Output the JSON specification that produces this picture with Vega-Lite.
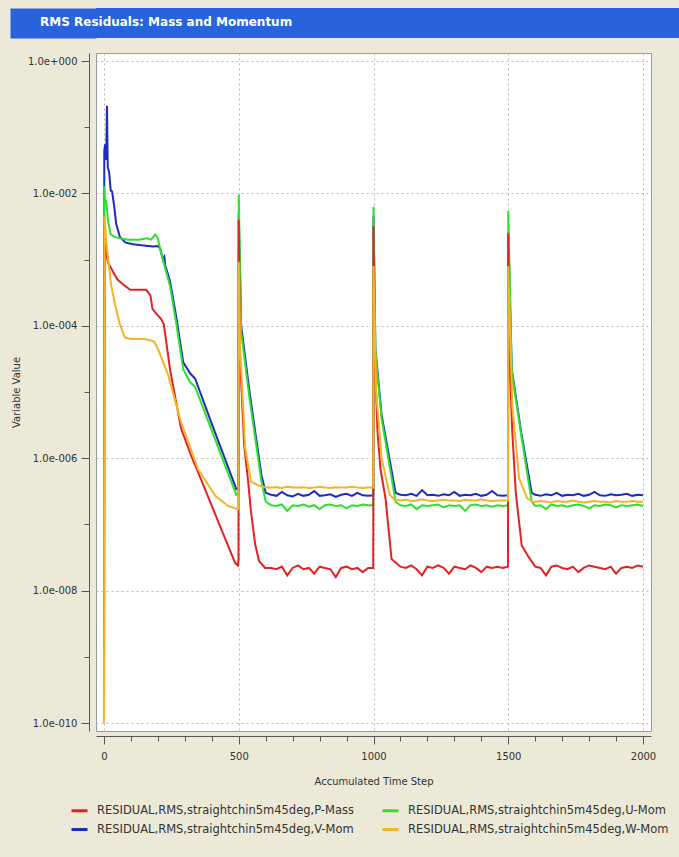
{
"$schema": "https://vega.github.io/schema/vega-lite/v6.json",
"background": "#ECE9D8",
"padding": {"left": 10, "top": 2, "right": 0, "bottom": 46},
"spacing": 14,
"config": {"font": "DejaVu Sans", "view": {"stroke": null}},
"datasets": {
"res": [
{"k":"V","t":0,"v":1e-10},{"k":"V","t":1,"v":4.4e-2},{"k":"V","t":4,"v":5.5e-2},{"k":"V","t":8,"v":3.2e-2},{"k":"V","t":11,"v":2.1e-1},{"k":"V","t":14,"v":2.5e-2},{"k":"V","t":19,"v":2.1e-2},{"k":"V","t":25,"v":1.1e-2},{"k":"V","t":30,"v":1.07e-2},{"k":"V","t":38,"v":6.3e-3},{"k":"V","t":45,"v":3.5e-3},{"k":"V","t":59,"v":2.2e-3},{"k":"V","t":80,"v":1.8e-3},{"k":"V","t":108,"v":1.7e-3},{"k":"V","t":130,"v":1.66e-3},{"k":"V","t":156,"v":1.62e-3},{"k":"V","t":182,"v":1.58e-3},{"k":"V","t":200,"v":1.6e-3},{"k":"V","t":208,"v":1.48e-3},{"k":"V","t":219,"v":1.0e-3},{"k":"V","t":224,"v":1.1e-3},{"k":"V","t":227,"v":8.3e-4},{"k":"V","t":245,"v":4.7e-4},{"k":"V","t":268,"v":1.38e-4},{"k":"V","t":294,"v":2.8e-5},{"k":"V","t":320,"v":1.9e-5},{"k":"V","t":338,"v":1.6e-5},{"k":"V","t":400,"v":3.3e-6},{"k":"V","t":450,"v":9.5e-7},{"k":"V","t":491,"v":3.4e-7},{"k":"V","t":499,"v":3.5e-7},
{"k":"V","t":500,"v":5e-3},{"k":"V","t":509,"v":1e-4},{"k":"V","t":540,"v":1e-5},{"k":"V","t":584,"v":5.6e-7},{"k":"V","t":600,"v":3.0e-7},
{"k":"V","t":620,"v":2.8e-7},{"k":"V","t":640,"v":2.7e-7},{"k":"V","t":660,"v":3.1e-7},{"k":"V","t":680,"v":2.75e-7},{"k":"V","t":700,"v":2.65e-7},{"k":"V","t":720,"v":2.9e-7},{"k":"V","t":740,"v":2.7e-7},{"k":"V","t":760,"v":2.8e-7},{"k":"V","t":780,"v":3.2e-7},{"k":"V","t":800,"v":2.7e-7},{"k":"V","t":820,"v":2.75e-7},{"k":"V","t":840,"v":2.85e-7},{"k":"V","t":860,"v":2.6e-7},{"k":"V","t":880,"v":2.8e-7},{"k":"V","t":900,"v":2.9e-7},{"k":"V","t":920,"v":2.7e-7},{"k":"V","t":940,"v":3.0e-7},{"k":"V","t":960,"v":2.75e-7},{"k":"V","t":980,"v":2.7e-7},{"k":"V","t":999,"v":2.75e-7},
{"k":"V","t":1000,"v":4.5e-3},{"k":"V","t":1007,"v":4.5e-5},{"k":"V","t":1030,"v":4.5e-6},{"k":"V","t":1082,"v":3.0e-7},
{"k":"V","t":1100,"v":2.8e-7},{"k":"V","t":1120,"v":2.75e-7},{"k":"V","t":1140,"v":2.9e-7},{"k":"V","t":1160,"v":2.7e-7},{"k":"V","t":1180,"v":3.3e-7},{"k":"V","t":1200,"v":2.75e-7},{"k":"V","t":1220,"v":2.8e-7},{"k":"V","t":1240,"v":2.7e-7},{"k":"V","t":1260,"v":2.85e-7},{"k":"V","t":1280,"v":2.75e-7},{"k":"V","t":1300,"v":3.1e-7},{"k":"V","t":1320,"v":2.7e-7},{"k":"V","t":1340,"v":2.8e-7},{"k":"V","t":1360,"v":2.75e-7},{"k":"V","t":1380,"v":2.9e-7},{"k":"V","t":1400,"v":2.7e-7},{"k":"V","t":1420,"v":2.8e-7},{"k":"V","t":1440,"v":3.2e-7},{"k":"V","t":1460,"v":2.75e-7},{"k":"V","t":1480,"v":2.7e-7},{"k":"V","t":1499,"v":2.75e-7},
{"k":"V","t":1500,"v":2.6e-3},{"k":"V","t":1513,"v":2.2e-5},{"k":"V","t":1550,"v":2.2e-6},{"k":"V","t":1587,"v":3.0e-7},
{"k":"V","t":1600,"v":2.8e-7},{"k":"V","t":1620,"v":2.7e-7},{"k":"V","t":1640,"v":2.85e-7},{"k":"V","t":1660,"v":2.75e-7},{"k":"V","t":1680,"v":3.0e-7},{"k":"V","t":1700,"v":2.7e-7},{"k":"V","t":1720,"v":2.8e-7},{"k":"V","t":1740,"v":2.75e-7},{"k":"V","t":1760,"v":2.9e-7},{"k":"V","t":1780,"v":2.7e-7},{"k":"V","t":1800,"v":2.8e-7},{"k":"V","t":1820,"v":3.1e-7},{"k":"V","t":1840,"v":2.75e-7},{"k":"V","t":1860,"v":2.7e-7},{"k":"V","t":1880,"v":2.85e-7},{"k":"V","t":1900,"v":2.75e-7},{"k":"V","t":1920,"v":2.8e-7},{"k":"V","t":1940,"v":2.9e-7},{"k":"V","t":1960,"v":2.7e-7},{"k":"V","t":1980,"v":2.8e-7},{"k":"V","t":2000,"v":2.75e-7},

{"k":"U","t":0,"v":1e-10},{"k":"U","t":1,"v":1.3e-2},{"k":"U","t":4,"v":6.8e-3},{"k":"U","t":8,"v":8e-3},{"k":"U","t":15,"v":3.8e-3},{"k":"U","t":25,"v":2.4e-3},{"k":"U","t":40,"v":2.2e-3},{"k":"U","t":59,"v":2.1e-3},{"k":"U","t":89,"v":2.0e-3},{"k":"U","t":130,"v":2.0e-3},{"k":"U","t":160,"v":2.1e-3},{"k":"U","t":175,"v":2.0e-3},{"k":"U","t":190,"v":2.4e-3},{"k":"U","t":200,"v":2.1e-3},{"k":"U","t":208,"v":1.45e-3},{"k":"U","t":227,"v":7.5e-4},{"k":"U","t":245,"v":4.0e-4},{"k":"U","t":268,"v":1.1e-4},{"k":"U","t":294,"v":2.2e-5},{"k":"U","t":320,"v":1.4e-5},{"k":"U","t":338,"v":1.2e-5},{"k":"U","t":400,"v":2.6e-6},{"k":"U","t":450,"v":7.6e-7},{"k":"U","t":491,"v":2.8e-7},{"k":"U","t":499,"v":2.9e-7},
{"k":"U","t":500,"v":9.5e-3},{"k":"U","t":509,"v":8e-5},{"k":"U","t":540,"v":8e-6},{"k":"U","t":584,"v":4.5e-7},{"k":"U","t":600,"v":2.2e-7},
{"k":"U","t":620,"v":1.95e-7},{"k":"U","t":640,"v":1.9e-7},{"k":"U","t":660,"v":2.0e-7},{"k":"U","t":680,"v":1.6e-7},{"k":"U","t":700,"v":1.95e-7},{"k":"U","t":720,"v":1.9e-7},{"k":"U","t":740,"v":2.0e-7},{"k":"U","t":760,"v":1.85e-7},{"k":"U","t":780,"v":1.95e-7},{"k":"U","t":800,"v":1.7e-7},{"k":"U","t":820,"v":1.95e-7},{"k":"U","t":840,"v":2.0e-7},{"k":"U","t":860,"v":1.9e-7},{"k":"U","t":880,"v":1.95e-7},{"k":"U","t":900,"v":1.75e-7},{"k":"U","t":920,"v":1.95e-7},{"k":"U","t":940,"v":1.9e-7},{"k":"U","t":960,"v":2.0e-7},{"k":"U","t":980,"v":1.95e-7},{"k":"U","t":999,"v":1.95e-7},
{"k":"U","t":1000,"v":6.3e-3},{"k":"U","t":1007,"v":4e-5},{"k":"U","t":1030,"v":4e-6},{"k":"U","t":1082,"v":2.2e-7},
{"k":"U","t":1100,"v":1.95e-7},{"k":"U","t":1120,"v":1.9e-7},{"k":"U","t":1140,"v":2.0e-7},{"k":"U","t":1160,"v":1.7e-7},{"k":"U","t":1180,"v":1.95e-7},{"k":"U","t":1200,"v":1.9e-7},{"k":"U","t":1220,"v":1.95e-7},{"k":"U","t":1240,"v":2.0e-7},{"k":"U","t":1260,"v":1.8e-7},{"k":"U","t":1280,"v":1.95e-7},{"k":"U","t":1300,"v":1.9e-7},{"k":"U","t":1320,"v":1.95e-7},{"k":"U","t":1340,"v":1.6e-7},{"k":"U","t":1360,"v":1.95e-7},{"k":"U","t":1380,"v":2.0e-7},{"k":"U","t":1400,"v":1.9e-7},{"k":"U","t":1420,"v":1.95e-7},{"k":"U","t":1440,"v":1.85e-7},{"k":"U","t":1460,"v":1.95e-7},{"k":"U","t":1480,"v":1.9e-7},{"k":"U","t":1499,"v":1.95e-7},
{"k":"U","t":1500,"v":5.4e-3},{"k":"U","t":1513,"v":2e-5},{"k":"U","t":1550,"v":2e-6},{"k":"U","t":1587,"v":2.2e-7},
{"k":"U","t":1600,"v":1.9e-7},{"k":"U","t":1620,"v":1.95e-7},{"k":"U","t":1640,"v":1.7e-7},{"k":"U","t":1660,"v":2.0e-7},{"k":"U","t":1680,"v":1.9e-7},{"k":"U","t":1700,"v":1.95e-7},{"k":"U","t":1720,"v":1.85e-7},{"k":"U","t":1740,"v":1.95e-7},{"k":"U","t":1760,"v":2.0e-7},{"k":"U","t":1780,"v":1.9e-7},{"k":"U","t":1800,"v":1.75e-7},{"k":"U","t":1820,"v":1.95e-7},{"k":"U","t":1840,"v":1.9e-7},{"k":"U","t":1860,"v":2.0e-7},{"k":"U","t":1880,"v":1.95e-7},{"k":"U","t":1900,"v":1.8e-7},{"k":"U","t":1920,"v":1.95e-7},{"k":"U","t":1940,"v":1.9e-7},{"k":"U","t":1960,"v":1.95e-7},{"k":"U","t":1980,"v":2.0e-7},{"k":"U","t":2000,"v":1.9e-7},

{"k":"P","t":0,"v":1e-10},{"k":"P","t":2,"v":3.2e-3},{"k":"P","t":4,"v":2.5e-3},{"k":"P","t":7,"v":1.3e-3},{"k":"P","t":15,"v":9e-4},{"k":"P","t":33,"v":6.6e-4},{"k":"P","t":50,"v":5.0e-4},{"k":"P","t":71,"v":4.2e-4},{"k":"P","t":97,"v":3.5e-4},{"k":"P","t":130,"v":3.5e-4},{"k":"P","t":156,"v":3.5e-4},{"k":"P","t":172,"v":2.9e-4},{"k":"P","t":180,"v":1.8e-4},{"k":"P","t":190,"v":1.6e-4},{"k":"P","t":212,"v":1.26e-4},{"k":"P","t":222,"v":1.05e-4},{"k":"P","t":245,"v":2.2e-5},{"k":"P","t":286,"v":2.8e-6},{"k":"P","t":323,"v":1.1e-6},{"k":"P","t":360,"v":4.8e-7},{"k":"P","t":400,"v":1.9e-7},{"k":"P","t":440,"v":7.6e-8},{"k":"P","t":470,"v":3.8e-8},{"k":"P","t":487,"v":2.6e-8},{"k":"P","t":497,"v":2.4e-8},{"k":"P","t":499,"v":3e-8},
{"k":"P","t":500,"v":4e-3},{"k":"P","t":505,"v":3.2e-5},{"k":"P","t":520,"v":1.6e-6},{"k":"P","t":535,"v":4.4e-7},{"k":"P","t":545,"v":1.6e-7},{"k":"P","t":561,"v":5e-8},{"k":"P","t":575,"v":2.8e-8},{"k":"P","t":598,"v":2.2e-8},
{"k":"P","t":620,"v":2.2e-8},{"k":"P","t":640,"v":2.1e-8},{"k":"P","t":660,"v":2.3e-8},{"k":"P","t":680,"v":1.7e-8},{"k":"P","t":700,"v":2.2e-8},{"k":"P","t":720,"v":2.4e-8},{"k":"P","t":740,"v":2.1e-8},{"k":"P","t":760,"v":2.2e-8},{"k":"P","t":780,"v":1.8e-8},{"k":"P","t":800,"v":2.3e-8},{"k":"P","t":820,"v":2.2e-8},{"k":"P","t":840,"v":2.1e-8},{"k":"P","t":860,"v":1.6e-8},{"k":"P","t":880,"v":2.2e-8},{"k":"P","t":900,"v":2.3e-8},{"k":"P","t":920,"v":2.1e-8},{"k":"P","t":940,"v":2.2e-8},{"k":"P","t":960,"v":1.9e-8},{"k":"P","t":980,"v":2.2e-8},{"k":"P","t":999,"v":2.2e-8},
{"k":"P","t":1000,"v":3.2e-3},{"k":"P","t":1005,"v":3.2e-5},{"k":"P","t":1015,"v":2.5e-6},{"k":"P","t":1026,"v":6.8e-7},{"k":"P","t":1045,"v":2.4e-7},{"k":"P","t":1067,"v":3e-8},
{"k":"P","t":1100,"v":2.3e-8},{"k":"P","t":1120,"v":2.2e-8},{"k":"P","t":1140,"v":2.4e-8},{"k":"P","t":1160,"v":2.1e-8},{"k":"P","t":1180,"v":1.7e-8},{"k":"P","t":1200,"v":2.3e-8},{"k":"P","t":1220,"v":2.2e-8},{"k":"P","t":1240,"v":2.4e-8},{"k":"P","t":1260,"v":2.2e-8},{"k":"P","t":1280,"v":1.8e-8},{"k":"P","t":1300,"v":2.3e-8},{"k":"P","t":1320,"v":2.2e-8},{"k":"P","t":1340,"v":2.1e-8},{"k":"P","t":1360,"v":2.4e-8},{"k":"P","t":1380,"v":2.2e-8},{"k":"P","t":1400,"v":1.9e-8},{"k":"P","t":1420,"v":2.3e-8},{"k":"P","t":1440,"v":2.2e-8},{"k":"P","t":1460,"v":2.3e-8},{"k":"P","t":1480,"v":2.2e-8},{"k":"P","t":1499,"v":2.3e-8},
{"k":"P","t":1500,"v":2.5e-3},{"k":"P","t":1505,"v":3.2e-5},{"k":"P","t":1515,"v":2.5e-6},{"k":"P","t":1528,"v":3e-7},{"k":"P","t":1550,"v":4.8e-8},{"k":"P","t":1576,"v":3.2e-8},
{"k":"P","t":1600,"v":2.3e-8},{"k":"P","t":1620,"v":2.2e-8},{"k":"P","t":1640,"v":1.7e-8},{"k":"P","t":1660,"v":2.3e-8},{"k":"P","t":1680,"v":2.4e-8},{"k":"P","t":1700,"v":2.2e-8},{"k":"P","t":1720,"v":2.1e-8},{"k":"P","t":1740,"v":2.3e-8},{"k":"P","t":1760,"v":1.9e-8},{"k":"P","t":1780,"v":2.2e-8},{"k":"P","t":1800,"v":2.4e-8},{"k":"P","t":1820,"v":2.3e-8},{"k":"P","t":1840,"v":2.2e-8},{"k":"P","t":1860,"v":2.1e-8},{"k":"P","t":1880,"v":2.3e-8},{"k":"P","t":1900,"v":1.8e-8},{"k":"P","t":1920,"v":2.2e-8},{"k":"P","t":1940,"v":2.3e-8},{"k":"P","t":1960,"v":2.2e-8},{"k":"P","t":1980,"v":2.4e-8},{"k":"P","t":2000,"v":2.3e-8},

{"k":"W","t":0,"v":1e-10},{"k":"W","t":2,"v":4.5e-3},{"k":"W","t":4,"v":3.4e-3},{"k":"W","t":8,"v":2e-3},{"k":"W","t":15,"v":1.05e-3},{"k":"W","t":26,"v":4.2e-4},{"k":"W","t":41,"v":2.1e-4},{"k":"W","t":59,"v":1.05e-4},{"k":"W","t":78,"v":6.6e-5},{"k":"W","t":100,"v":6.3e-5},{"k":"W","t":150,"v":6.3e-5},{"k":"W","t":175,"v":6.0e-5},{"k":"W","t":186,"v":5.8e-5},{"k":"W","t":200,"v":4.5e-5},{"k":"W","t":238,"v":1.8e-5},{"k":"W","t":286,"v":3.5e-6},{"k":"W","t":349,"v":6.8e-7},{"k":"W","t":413,"v":2.7e-7},{"k":"W","t":460,"v":1.9e-7},{"k":"W","t":498,"v":1.7e-7},{"k":"W","t":499,"v":1.7e-7},
{"k":"W","t":500,"v":9.3e-4},{"k":"W","t":505,"v":5e-5},{"k":"W","t":524,"v":1.4e-6},{"k":"W","t":546,"v":4.4e-7},{"k":"W","t":572,"v":3.9e-7},{"k":"W","t":600,"v":3.6e-7},
{"k":"W","t":620,"v":3.6e-7},{"k":"W","t":640,"v":3.65e-7},{"k":"W","t":660,"v":3.55e-7},{"k":"W","t":680,"v":3.7e-7},{"k":"W","t":700,"v":3.6e-7},{"k":"W","t":720,"v":3.6e-7},{"k":"W","t":740,"v":3.65e-7},{"k":"W","t":760,"v":3.55e-7},{"k":"W","t":780,"v":3.6e-7},{"k":"W","t":800,"v":3.7e-7},{"k":"W","t":820,"v":3.6e-7},{"k":"W","t":840,"v":3.55e-7},{"k":"W","t":860,"v":3.65e-7},{"k":"W","t":880,"v":3.6e-7},{"k":"W","t":900,"v":3.6e-7},{"k":"W","t":920,"v":3.7e-7},{"k":"W","t":940,"v":3.6e-7},{"k":"W","t":960,"v":3.55e-7},{"k":"W","t":980,"v":3.6e-7},{"k":"W","t":999,"v":3.6e-7},
{"k":"W","t":1000,"v":8e-4},{"k":"W","t":1010,"v":1e-5},{"k":"W","t":1030,"v":1e-6},{"k":"W","t":1060,"v":2.8e-7},{"k":"W","t":1080,"v":2.35e-7},
{"k":"W","t":1100,"v":2.3e-7},{"k":"W","t":1120,"v":2.35e-7},{"k":"W","t":1140,"v":2.25e-7},{"k":"W","t":1160,"v":2.3e-7},{"k":"W","t":1180,"v":2.4e-7},{"k":"W","t":1200,"v":2.3e-7},{"k":"W","t":1220,"v":2.25e-7},{"k":"W","t":1240,"v":2.3e-7},{"k":"W","t":1260,"v":2.35e-7},{"k":"W","t":1280,"v":2.3e-7},{"k":"W","t":1300,"v":2.3e-7},{"k":"W","t":1320,"v":2.25e-7},{"k":"W","t":1340,"v":2.35e-7},{"k":"W","t":1360,"v":2.3e-7},{"k":"W","t":1380,"v":2.3e-7},{"k":"W","t":1400,"v":2.4e-7},{"k":"W","t":1420,"v":2.3e-7},{"k":"W","t":1440,"v":2.25e-7},{"k":"W","t":1460,"v":2.3e-7},{"k":"W","t":1480,"v":2.3e-7},{"k":"W","t":1499,"v":2.3e-7},
{"k":"W","t":1500,"v":8e-4},{"k":"W","t":1515,"v":6.3e-6},{"k":"W","t":1540,"v":5e-7},{"k":"W","t":1570,"v":2.5e-7},{"k":"W","t":1590,"v":2.2e-7},
{"k":"W","t":1600,"v":2.2e-7},{"k":"W","t":1620,"v":2.25e-7},{"k":"W","t":1640,"v":2.2e-7},{"k":"W","t":1660,"v":2.15e-7},{"k":"W","t":1680,"v":2.25e-7},{"k":"W","t":1700,"v":2.2e-7},{"k":"W","t":1720,"v":2.2e-7},{"k":"W","t":1740,"v":2.3e-7},{"k":"W","t":1760,"v":2.2e-7},{"k":"W","t":1780,"v":2.15e-7},{"k":"W","t":1800,"v":2.2e-7},{"k":"W","t":1820,"v":2.25e-7},{"k":"W","t":1840,"v":2.2e-7},{"k":"W","t":1860,"v":2.2e-7},{"k":"W","t":1880,"v":2.15e-7},{"k":"W","t":1900,"v":2.25e-7},{"k":"W","t":1920,"v":2.2e-7},{"k":"W","t":1940,"v":2.2e-7},{"k":"W","t":1960,"v":2.25e-7},{"k":"W","t":1980,"v":2.2e-7},{"k":"W","t":2000,"v":2.2e-7}
]
},
"vconcat": [
{
"width": 583, "height": 30,
"view": {"fill": "#2862DC", "stroke": null},
"title": {"text": "RMS Residuals: Mass and Momentum", "anchor": "start", "frame": "group", "offset": -27, "dx": -56, "color": "white", "fontSize": 12, "fontWeight": "bold", "font": "DejaVu Sans"},
"data": {"values": [{}]},
"mark": {"type": "text"},
"encoding": {
"text": {"value": ""},
"y": {"datum": 1, "type": "quantitative", "axis": {"domainWidth": 86, "domainColor": "#2862DC", "offset": 43, "labels": false, "ticks": false, "grid": false, "title": null}}
}
},
{
"width": 555, "height": 678,
"view": {"fill": "white", "stroke": "#9a9a9a"},
"data": {"name": "res"},
"mark": {"type": "line", "strokeWidth": 2, "clip": true},
"encoding": {
"x": {"field": "t", "type": "quantitative",
"scale": {"domain": [0, 2000], "padding": 8, "nice": false, "zero": false},
"axis": {"values": [0,100,200,300,400,500,600,700,800,900,1000,1100,1200,1300,1400,1500,1600,1700,1800,1900,2000],
"format": "d",
"labelExpr": "datum.value % 500 == 0 ? datum.label : ''",
"tickSize": {"condition": {"test": "datum.value % 500 != 0", "value": 5}, "value": 8},
"gridOpacity": {"condition": {"test": "datum.value % 500 != 0", "value": 0}, "value": 1},
"gridDash": [2, 3], "gridColor": "#b8b8b8",
"domainColor": "#555", "tickColor": "#555", "offset": 5,
"labelFontSize": 10, "labelColor": "#333", "labelPadding": 7,
"title": "Accumulated Time Step", "titleFontSize": 10, "titleFontWeight": "normal", "titleColor": "#333", "titlePadding": 15}},
"y": {"field": "v", "type": "quantitative",
"scale": {"type": "log", "domain": [1e-10, 1], "padding": 8, "nice": false},
"axis": {"values": [1, 0.1, 0.01, 0.001, 0.0001, 1e-5, 1e-6, 1e-7, 1e-8, 1e-9, 1e-10],
"labelExpr": "round(log(datum.value)/LN10) % 2 != 0 ? '' : (datum.value >= 0.5 ? '1.0e+000' : '1.0e-0' + (round(-log(datum.value)/LN10) < 10 ? '0' : '') + round(-log(datum.value)/LN10))",
"tickSize": {"condition": {"test": "round(log(datum.value)/LN10) % 2 != 0", "value": 5}, "value": 8},
"gridOpacity": {"condition": {"test": "round(log(datum.value)/LN10) % 2 != 0", "value": 0}, "value": 1},
"gridDash": [2, 3], "gridColor": "#b8b8b8",
"domainColor": "#555", "tickColor": "#555", "offset": 7,
"labelFontSize": 10, "labelColor": "#333", "labelPadding": 4,
"title": "Variable Value", "titleFontSize": 10, "titleFontWeight": "normal", "titleColor": "#333", "titlePadding": 6}},
"color": {"field": "k", "type": "nominal",
"scale": {"domain": ["P", "U", "V", "W"], "range": ["#e42222", "#2ee02e", "#1c2cc0", "#f2b428"]},
"legend": {"orient": "none", "legendX": -26, "legendY": 793, "direction": "horizontal", "columns": 2, "title": null,
"symbolType": "stroke", "symbolStrokeWidth": 3, "symbolSize": 256, "labelOffset": 8,
"labelFontSize": 11.5, "labelColor": "#333", "labelLimit": 400, "columnPadding": 22, "rowPadding": 3,
"labelExpr": "'RESIDUAL,RMS,straightchin5m45deg,' + (datum.label == 'P' ? 'P-Mass' : datum.label + '-Mom')"}}
}
}
]
}
